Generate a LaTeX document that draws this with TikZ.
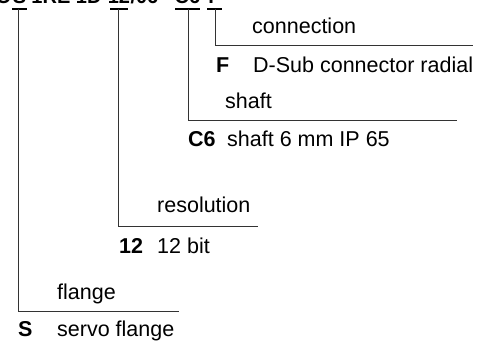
\documentclass[tikz,border=0pt]{standalone}
\usepackage{fontspec}
\setmainfont{Liberation Sans}
\usetikzlibrary{positioning}
\tikzstyle{title1} =
[
	anchor=base
	, inner sep=0pt
	, font=\fontsize{20}{20}\selectfont\bfseries
]
\tikzstyle{code1} =
[
	anchor=base west
	, inner sep=0pt
	, font=\fontsize{21.5}{21.5}\selectfont\bfseries
]
\tikzstyle{text1} =
[
	anchor=base west
	, inner sep=0pt
	, font=\fontsize{21.5}{21.5}\selectfont
]
\tikzstyle{bar} = [line width=2.8pt, black]
\tikzstyle{leader} = [line width=0.9pt, black!80]

\begin{document}
\begin{tikzpicture}[x=1pt, y=-1pt]
\clip (0,0) rectangle (479,340);

\node(tS)[title1] at (19.5,4){S};
\node(t12)[title1] at (119,4){12};
\node(tC6)[title1] at (187.5,4){C6};
\node(tF)[title1] at (214.5,4){F};
\node(tO)[title1, anchor=base east] at ([xshift=-1pt]tS.base west){O};
\node(tRE)[title1, anchor=base east] at ([xshift=-6pt]t12.base west){1RE 1D};
\node(t06)[title1, anchor=base west] at (t12.base east){/06};

\coordinate(barS) at (18,9);
\coordinate(bar12) at (118,9);
\coordinate(barC6) at (188,9);
\coordinate(barF) at (215,9);
\coordinate(endS) at (179,311);
\coordinate(end12) at (258,226);
\coordinate(endC6) at (457,120);
\coordinate(endF) at (473,45);

\draw[bar]([xshift=-6pt]barS)--([xshift=9pt]barS);
\draw[bar]([xshift=-8pt]bar12)--([xshift=10pt]bar12);
\draw[bar]([xshift=-13pt]barC6)--([xshift=12pt]barC6);
\draw[bar]([xshift=-8pt]barF)--([xshift=7pt]barF);

\draw[leader](barF)|-(endF);
\draw[leader](barC6)|-(endC6);
\draw[leader](bar12)|-(end12);
\draw[leader](barS)|-(endS);

\node(hCon)[text1] at (252,33){connection};
\node(cF)[code1] at (216,72){F};
\node(dF)[text1] at (253,72){D-Sub connector radial};
\node(hShaft)[text1] at (225,108){shaft};
\node(cC6)[code1] at (188,146){C6};
\node(dC6)[text1] at (227,146){shaft 6 mm IP 65};
\node(hRes)[text1] at (157,212){resolution};
\node(c12)[code1] at (119,253){12};
\node(d12)[text1] at (157,253){12 bit};
\node(hFl)[text1] at (57,299){flange};
\node(cS)[code1] at (18,336){S};
\node(dS)[text1] at (57,336){servo flange};

\end{tikzpicture}
\end{document}
